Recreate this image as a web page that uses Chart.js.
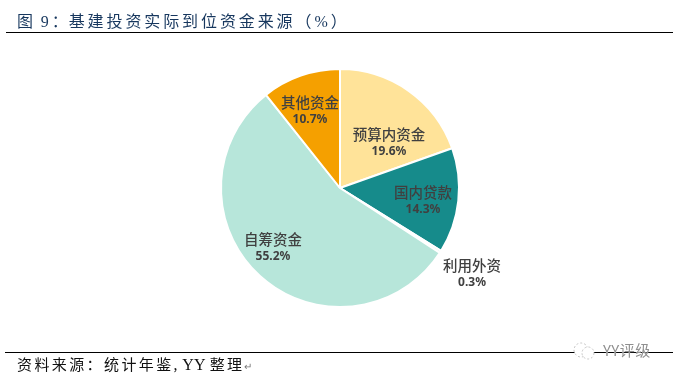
<!DOCTYPE html>
<html lang="zh">
<head>
<meta charset="utf-8">
<style>
html,body{margin:0;padding:0;background:#fff;overflow:hidden}
#wrap{position:relative;width:673px;height:381px;overflow:hidden}
canvas{position:absolute;left:0;top:0}
.t{position:absolute;white-space:nowrap}
#title{left:17px;top:11px;font:16px/22px "Liberation Serif","Noto Sans CJK SC",serif;color:#17375e;letter-spacing:2.9px;word-spacing:-2px}
#title .c{letter-spacing:1px}
#footer{left:17px;top:355px;font:15px/20px "Liberation Serif","Noto Sans CJK SC",serif;color:#111;letter-spacing:2.4px}
#footer .en{letter-spacing:.3px;font-size:16px}
#footer .ret{color:#777;font-size:10px;letter-spacing:0}
.rule{position:absolute;height:1px;background:#000}
#mark{left:603px;top:340px;font:15px/20px "Noto Sans CJK SC",sans-serif;color:#8f8f8f;letter-spacing:.4px;text-shadow:0 0 1px #fff}
#icon{position:absolute;left:571px;top:340px}
</style>
</head>
<body>
<div id="wrap">
<canvas id="c" width="673" height="381"></canvas>
<div class="rule" style="left:6px;right:0;top:32px"></div>
<div class="rule" style="left:5px;right:0;top:352px"></div>
<div class="t" id="title">图 9<span class="c">：</span>基建投资实际到位资金来源（%）</div>
<div class="t" id="footer">资料来源：统计年鉴<span class="en">, YY </span>整理<span class="ret">↵</span></div>
<svg id="icon" width="26" height="22" viewBox="0 0 26 22"><circle cx="10" cy="10" r="7" fill="#fff" stroke="#c4c4c4" stroke-dasharray="2 2"/><circle cx="17" cy="13" r="6" fill="#fff" stroke="#c4c4c4" stroke-dasharray="2 2"/></svg>
<div class="t" id="mark">YY评级</div>
</div>
<script src="https://cdn.jsdelivr.net/npm/chart.js@4"></script>
<script>
const categories = ["预算内资金","国内贷款","利用外资","自筹资金","其他资金"];
const shares = [19.6,14.3,0.3,55.2,10.7];
const shareLabels = ["19.6%","14.3%","0.3%","55.2%","10.7%"];
const sliceColors = ["#FFE399","#168B8B","#B7E6DA","#B7E6DA","#F5A000"];
const labelShift = [[49,-54],[83,4],[132,77],[-67,51],[-30,-86]];
const pieLabels = {
  id:"pieLabels",
  afterDatasetsDraw(chart){
    const ctx = chart.ctx, arcs = chart.getDatasetMeta(0).data;
    ctx.save();
    ctx.textAlign="center"; ctx.textBaseline="middle"; ctx.fillStyle="#404040";
    arcs.forEach((a,i)=>{
      const x=a.x+labelShift[i][0], y=a.y+labelShift[i][1];
      ctx.font='500 14.5px "Noto Sans CJK SC"';
      ctx.fillText(categories[i],x,y);
      ctx.font='bold 12px "Noto Sans","Noto Sans CJK SC"';
      ctx.fillText(shareLabels[i],x,y+18);
    });
    ctx.restore();
  }
};
new Chart(document.getElementById("c"),{
  type:"pie",
  data:{labels:categories,datasets:[{data:shares,backgroundColor:sliceColors,borderColor:"#fff",borderWidth:2}]},
  options:{
    responsive:false,animation:false,
    layout:{padding:{left:7,right:0,top:68,bottom:73}},
    plugins:{legend:{display:false},tooltip:{enabled:false}}
  },
  plugins:[pieLabels]
});
</script>
</body>
</html>
